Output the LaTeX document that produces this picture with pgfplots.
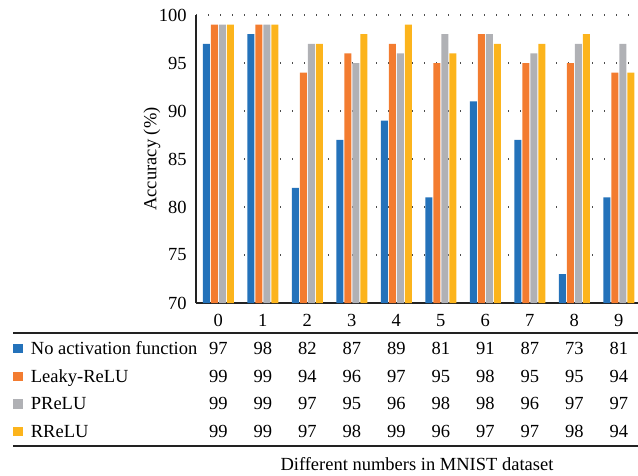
\documentclass[border=0pt]{standalone}
\usepackage{pgfplots}
\pgfplotsset{compat=1.18}
\usepackage{fontspec}
\setmainfont{Liberation Serif}
\definecolor{cblue}{RGB}{36,114,186}
\definecolor{corange}{RGB}{243,124,48}
\definecolor{cgray}{RGB}{176,177,181}
\definecolor{cyellow}{RGB}{252,180,28}
\definecolor{cline}{RGB}{34,34,34}
\begin{document}
\fontsize{18.5}{22}\selectfont
\begin{tikzpicture}
\path[use as bounding box] (0,0) rectangle (638pt,-475pt);
\begin{axis}[
  at={(196pt,-303pt)}, anchor=south west,
  scale only axis, width=442pt, height=288pt,
  xmin=-0.5, xmax=9.43, ymin=70, ymax=100,
  enlargelimits=false,
  ybar=1pt, bar width=7pt,
  axis lines*=left,
  axis line style={line width=1.5pt, cline},
  xtick={0,...,9},
  ytick={70,75,...,100},
  major tick length=0pt,
  /pgf/number format/assume math mode=true,
  xticklabel style={anchor=center, yshift=-17.5pt},
  yticklabel style={xshift=-3pt},
  ymajorgrids,
  major grid style={dash pattern=on 1.4pt off 10.6pt, line width=1.1pt, black!70},
  ylabel={Accuracy (\%)},
  ylabel style={at={(axis description cs:-0.0995,0.5)}, anchor=center},
  xlabel={Different numbers in MNIST dataset},
  xlabel style={at={(axis description cs:0.5,0)}, anchor=base, yshift=-167pt},
]
\addplot[fill=cblue, draw=none] coordinates {(0,97) (1,98) (2,82) (3,87) (4,89) (5,81) (6,91) (7,87) (8,73) (9,81)};
\addplot[fill=corange, draw=none] coordinates {(0,99) (1,99) (2,94) (3,96) (4,97) (5,95) (6,98) (7,95) (8,95) (9,94)};
\addplot[fill=cgray, draw=none] coordinates {(0,99) (1,99) (2,97) (3,95) (4,96) (5,98) (6,98) (7,96) (8,97) (9,97)};
\addplot[fill=cyellow, draw=none] coordinates {(0,99) (1,99) (2,97) (3,98) (4,99) (5,96) (6,97) (7,97) (8,98) (9,94)};
\end{axis}
% data table below the chart
\draw[line width=1.5pt, cline] (13pt,-333pt) -- (638pt,-333pt);
\draw[line width=1.5pt, cline] (13pt,-446pt) -- (638pt,-446pt);
\fill[cblue]   (13.3pt,-343.6pt) rectangle ++(9.4pt,-9.4pt);
\fill[corange] (13.3pt,-371.6pt) rectangle ++(9.4pt,-9.4pt);
\fill[cgray]   (13.3pt,-399.3pt) rectangle ++(9.4pt,-9.4pt);
\fill[cyellow] (13.3pt,-427.0pt) rectangle ++(9.4pt,-9.4pt);
\node[anchor=base west, inner sep=0] at (30.7pt,-354pt) {No activation function};
\node[anchor=base west, inner sep=0] at (30.7pt,-382pt) {Leaky-ReLU};
\node[anchor=base west, inner sep=0] at (30.7pt,-409.7pt) {PReLU};
\node[anchor=base west, inner sep=0] at (30.7pt,-437.4pt) {RReLU};
\foreach \v [count=\i from 0] in {97,98,82,87,89,81,91,87,73,81}
  \node[anchor=base, inner sep=0] at ({218.26pt+44.51pt*\i},-354pt) {\v};
\foreach \v [count=\i from 0] in {99,99,94,96,97,95,98,95,95,94}
  \node[anchor=base, inner sep=0] at ({218.26pt+44.51pt*\i},-382pt) {\v};
\foreach \v [count=\i from 0] in {99,99,97,95,96,98,98,96,97,97}
  \node[anchor=base, inner sep=0] at ({218.26pt+44.51pt*\i},-409.7pt) {\v};
\foreach \v [count=\i from 0] in {99,99,97,98,99,96,97,97,98,94}
  \node[anchor=base, inner sep=0] at ({218.26pt+44.51pt*\i},-437.4pt) {\v};
\end{tikzpicture}
\end{document}
